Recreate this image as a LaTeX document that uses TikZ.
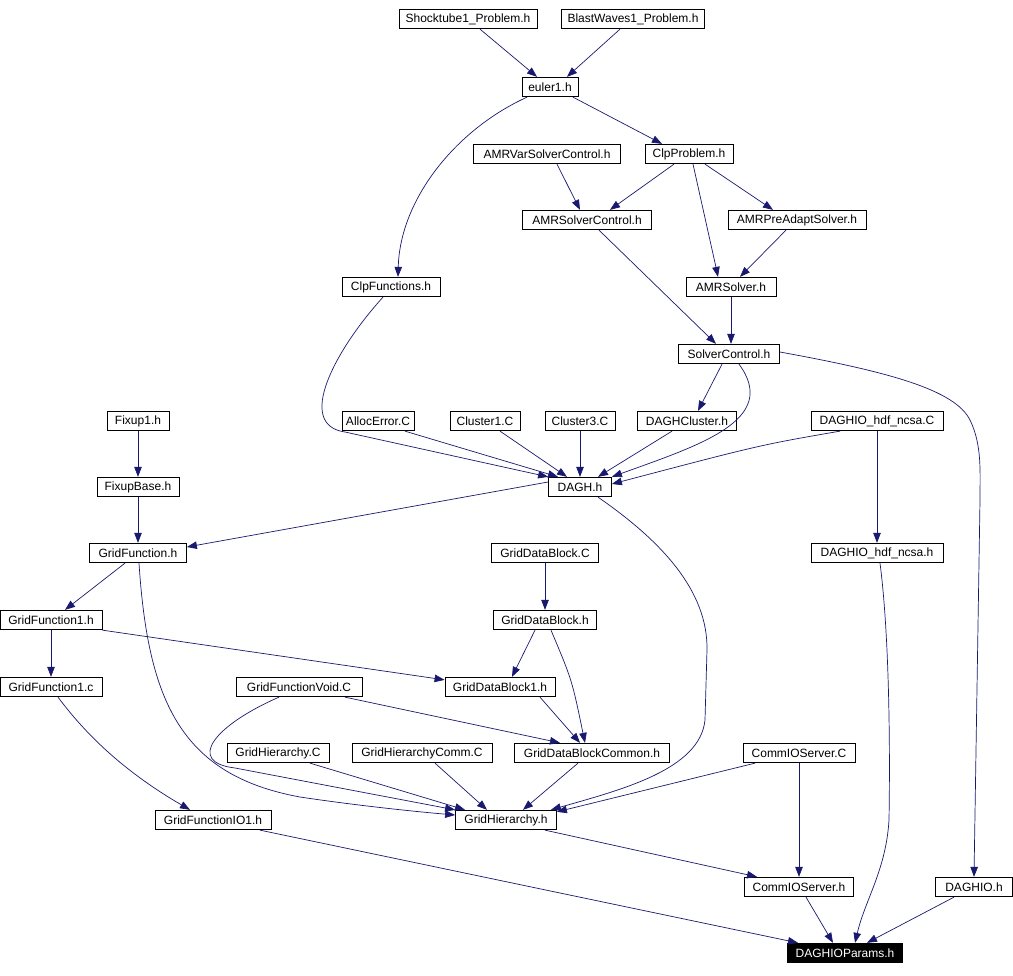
\documentclass[tikz,border=0pt]{standalone}
\usepackage{fontspec}
\setmainfont{Liberation Sans}
\usetikzlibrary{arrows.meta}
\definecolor{edgeblue}{HTML}{191970}
\begin{document}
\begin{tikzpicture}[x=1pt,y=-1pt,
 box/.style={draw=black, fill=white, line width=0.8pt, minimum height=19.5pt, inner sep=0pt, font=\fontsize{12}{14}\selectfont},
 hl/.style={box, fill=black, text=white},
 e/.style={draw=edgeblue, line width=0.7pt, -{Triangle[length=10pt,width=7.5pt]}},
]
\useasboundingbox[fill=white] (0,0) rectangle (1013,976);
% nodes
\node[box, minimum width=138pt] (shock) at (468,19) {Shocktube1\_Problem.h};
\node[box, minimum width=143pt] (blast) at (633,19) {BlastWaves1\_Problem.h};
\node[box, minimum width=56pt] (euler) at (550,87) {euler1.h};
\node[box, minimum width=147pt] (amrvar) at (547,154) {AMRVarSolverControl.h};
\node[box, minimum width=88pt] (clpprob) at (689,154) {ClpProblem.h};
\node[box, minimum width=129pt] (amrsc) at (587,220) {AMRSolverControl.h};
\node[box, minimum width=138pt] (amrpre) at (797,220) {AMRPreAdaptSolver.h};
\node[box, minimum width=98pt] (clpfun) at (391,287) {ClpFunctions.h};
\node[box, minimum width=90pt] (amrsolver) at (731,287) {AMRSolver.h};
\node[box, minimum width=101pt] (solverctl) at (729,354) {SolverControl.h};
\node[box, minimum width=62pt] (fixup1) at (138,421) {Fixup1.h};
\node[box, minimum width=72pt] (alloc) at (378,421) {AllocError.C};
\node[box, minimum width=70pt] (cluster1) at (485,421) {Cluster1.C};
\node[box, minimum width=70pt] (cluster3) at (580,421) {Cluster3.C};
\node[box, minimum width=99pt] (daghcluster) at (687,421) {DAGHCluster.h};
\node[box, minimum width=132pt] (hdfC) at (877,421) {DAGHIO\_hdf\_ncsa.C};
\node[box, minimum width=82pt] (fixupbase) at (138,487) {FixupBase.h};
\node[box, minimum width=63pt] (dagh) at (580,487) {DAGH.h};
\node[box, minimum width=97pt] (gridfunc) at (138,553) {GridFunction.h};
\node[box, minimum width=107pt] (gdbC) at (545,553) {GridDataBlock.C};
\node[box, minimum width=132pt] (hdfh) at (877,553) {DAGHIO\_hdf\_ncsa.h};
\node[box, minimum width=102pt] (gf1h) at (51,620) {GridFunction1.h};
\node[box, minimum width=103pt] (gdbh) at (545,620) {GridDataBlock.h};
\node[box, minimum width=102pt] (gf1c) at (51,687) {GridFunction1.c};
\node[box, minimum width=126pt] (gfvoid) at (299,687) {GridFunctionVoid.C};
\node[box, minimum width=110pt] (gdb1) at (500,687) {GridDataBlock1.h};
\node[box, minimum width=102pt] (ghC) at (278,753) {GridHierarchy.C};
\node[box, minimum width=140pt] (ghcomm) at (422,753) {GridHierarchyComm.C};
\node[box, minimum width=155pt] (gdbcommon) at (592,753) {GridDataBlockCommon.h};
\node[box, minimum width=112pt] (commC) at (799,753) {CommIOServer.C};
\node[box, minimum width=116pt] (gfio) at (213,820) {GridFunctionIO1.h};
\node[box, minimum width=101pt] (gh) at (506,820) {GridHierarchy.h};
\node[box, minimum width=109pt] (commh) at (799,887) {CommIOServer.h};
\node[box, minimum width=77pt] (daghio) at (974,887) {DAGHIO.h};
\node[hl, minimum width=115pt] (params) at (845,953) {DAGHIOParams.h};
% edges
\draw[e] ([xshift=12pt]shock.south) -- ([xshift=-13pt]euler.north);
\draw[e] ([xshift=-13pt]blast.south) -- ([xshift=17pt]euler.north);
\draw[e] ([xshift=23pt]euler.south) -- ([xshift=-27pt]clpprob.north);
\draw[e] ([xshift=-23pt]euler.south) .. controls (455,130) and (400,200) .. ([xshift=7pt]clpfun.north);
\draw[e] ([xshift=10pt]amrvar.south) -- ([xshift=-7pt]amrsc.north);
\draw[e] ([xshift=-15pt]clpprob.south) -- ([xshift=23pt]amrsc.north);
\draw[e] ([xshift=16pt]clpprob.south) -- ([xshift=-24pt]amrpre.north);
\draw[e] ([xshift=4pt]clpprob.south) .. controls (705,215) .. ([xshift=-13pt]amrsolver.north);
\draw[e] ([xshift=-11pt]amrpre.south) -- ([xshift=9pt]amrsolver.north);
\draw[e] ([xshift=12pt]amrsc.south) -- ([xshift=-13pt]solverctl.north);
\draw[e] (amrsolver.south) -- ([xshift=2pt]solverctl.north);
\draw[e] ([xshift=-7pt]solverctl.south) -- ([xshift=11pt]daghcluster.north);
\draw[e] ([xshift=10pt]solverctl.south) .. controls (780,420) and (700,445) .. (dagh.north east);
\draw[e] ([yshift=2pt]solverctl.east) .. controls (890,372) and (955,390) .. (970,420) .. controls (982,445) and (980,470) .. (980,500) -- (daghio.north);
\draw[e] ([xshift=-8pt]clpfun.south) .. controls (335,350) and (295,425) .. (345,432) -- (dagh.north west);
\draw[e] ([xshift=27pt]alloc.south) -- ([xshift=-22pt]dagh.north);
\draw[e] ([xshift=15pt]cluster1.south) -- ([xshift=-13pt]dagh.north);
\draw[e] (cluster3) -- (dagh);
\draw[e] ([xshift=-15pt]daghcluster.south) -- ([xshift=18pt]dagh.north);
\draw[e] ([xshift=-37pt]hdfC.south) .. controls (760,445) .. ([yshift=3pt]dagh.east);
\draw[e] (hdfC) -- (hdfh);
\draw[e] (fixup1) -- (fixupbase);
\draw[e] (fixupbase) -- (gridfunc);
\draw[e] ([yshift=5pt]dagh.west) -- ([yshift=6pt]gridfunc.east);
\draw[e] ([xshift=18pt]dagh.south) .. controls (660,540) and (708,590) .. (707,650) -- (705,720) .. controls (700,770) and (620,790) .. ([xshift=-6pt]gh.north east);
\draw[e] (gdbC) -- (gdbh);
\draw[e] ([xshift=3pt]hdfh.south) .. controls (890,640) and (890,760) .. (889,820) .. controls (886,870) and (865,900) .. ([xshift=10pt]params.north);
\draw[e] ([xshift=-13pt]gridfunc.south) -- ([xshift=14pt]gf1h.north);
\draw[e] ([xshift=1pt]gridfunc.south) .. controls (148,700) and (180,775) .. (300,797) .. controls (360,806) and (420,812) .. ([yshift=5pt]gh.west);
\draw[e] (gf1h.south east) -- ([yshift=-3pt]gdb1.north west);
\draw[e] (gf1h) -- (gf1c);
\draw[e] ([xshift=-10pt]gdbh.south) -- ([xshift=12pt]gdb1.north);
\draw[e] ([xshift=6pt]gdbh.south) .. controls (572,680) .. ([xshift=-7pt]gdbcommon.north);
\draw[e] ([xshift=7pt]gf1c.south) .. controls (90,740) and (130,775) .. ([xshift=-23pt]gfio.north);
\draw[e] ([xshift=46pt]gfvoid.south) -- ([xshift=-32pt]gdbcommon.north);
\draw[e] ([xshift=-20pt]gfvoid.south) .. controls (215,725) and (185,762) .. (235,768) -- (gh.north west);
\draw[e] ([xshift=40pt]gdb1.south) -- ([xshift=-12pt]gdbcommon.north);
\draw[e] ([xshift=32pt]ghC.south) -- ([xshift=-41pt]gh.north);
\draw[e] ([xshift=13pt]ghcomm.south) -- ([xshift=-19pt]gh.north);
\draw[e] ([xshift=-14pt]gdbcommon.south) -- ([xshift=17pt]gh.north);
\draw[e] ([xshift=-44pt]commC.south) -- ([yshift=-2pt]gh.north east);
\draw[e] (commC) -- (commh);
\draw[e] ([xshift=47pt]gfio.south) -- ([xshift=-47pt]params.north);
\draw[e] ([xshift=39pt]gh.south) -- ([xshift=-42pt]commh.north);
\draw[e] ([xshift=7pt]commh.south) -- ([xshift=-12pt]params.north);
\draw[e] ([xshift=-20pt]daghio.south) -- ([xshift=22pt]params.north);
\end{tikzpicture}
\end{document}
